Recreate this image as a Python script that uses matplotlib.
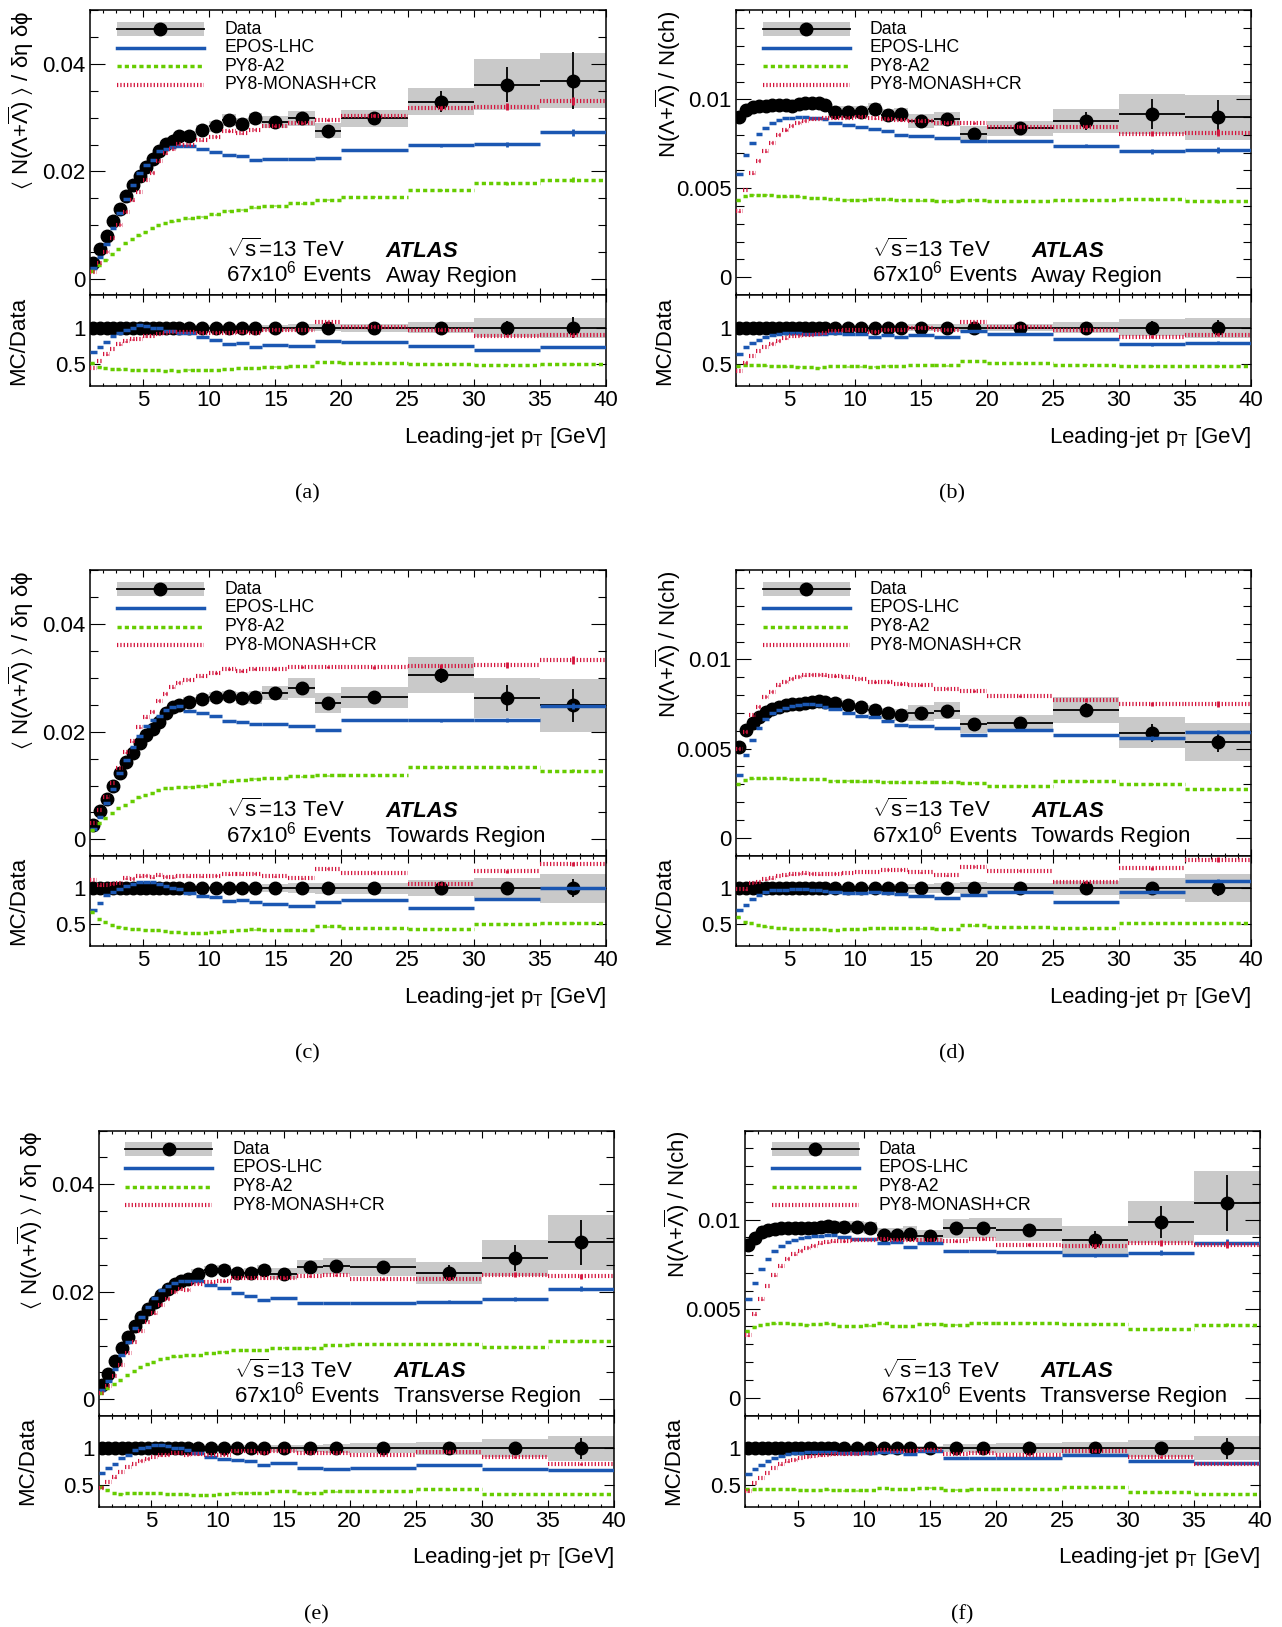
import numpy as np
import matplotlib
matplotlib.use("Agg")
import matplotlib.pyplot as plt
from matplotlib.ticker import MultipleLocator
from matplotlib.lines import Line2D
from matplotlib.patches import Rectangle

plt.rcParams['font.family'] = ['Liberation Sans', 'DejaVu Sans']
plt.rcParams.update({
    'mathtext.fontset': 'custom', 'mathtext.rm': 'Liberation Sans',
    'mathtext.it': 'Liberation Sans:italic', 'mathtext.bf': 'Liberation Sans:bold',
    'mathtext.sf': 'Liberation Sans', 'mathtext.default': 'regular',
})

# ---------------- data ----------------
bin_edges = [1.0, 1.5, 2.0, 2.5, 3.0, 3.5, 4.0, 4.5, 5.0, 5.5, 6.0, 6.5, 7.0, 7.5, 8.0,
             9.0, 10.0, 11.0, 12.0, 13.0, 14.0, 16.0, 18.0, 20.0, 25.0, 30.0, 35.0, 40.0]

series_names = ["Data", "EPOS-LHC", "PY8-A2", "PY8-MONASH+CR"]
regions = ["Away Region", "Away Region", "Towards Region", "Towards Region",
           "Transverse Region", "Transverse Region"]
captions = ["(a)", "(b)", "(c)", "(d)", "(e)", "(f)"]
x_ticks = [5, 10, 15, 20, 25, 30, 35, 40]
ratio_ticks = [0.5, 1.0]
ratio_ticklabels = ["0.5", "1"]
dens_ticks = [0.0, 0.02, 0.04]
dens_ticklabels = ["0", "0.02", "0.04"]
frac_ticks = [0.0, 0.005, 0.01]
frac_ticklabels = ["0", "0.005", "0.01"]

# (a) Away, density
data_a = [0.00294, 0.00556, 0.00806, 0.0107, 0.0131, 0.0154, 0.0174, 0.0191, 0.0209, 0.0223, 0.0239, 0.0252, 0.0256, 0.0267,
          0.0266, 0.0277, 0.0284, 0.0296, 0.0289, 0.0299, 0.0292, 0.0299, 0.0276, 0.0299, 0.0330, 0.0362, 0.0369]
epos_a = [0.00197, 0.00406, 0.00653, 0.00942, 0.0122, 0.0149, 0.0174, 0.0197, 0.0213, 0.0221, 0.0239, 0.0242, 0.0246, 0.0248,
          0.0247, 0.0241, 0.0236, 0.0231, 0.0228, 0.0222, 0.0223, 0.0224, 0.0226, 0.0240, 0.0249, 0.0251, 0.0273]
a2_a = [0.0015, 0.0026, 0.0036, 0.0046, 0.0056, 0.0066, 0.0074, 0.0081, 0.0088, 0.0094, 0.0100, 0.0104, 0.0107, 0.0109,
        0.0113, 0.0116, 0.0120, 0.0127, 0.0129, 0.0133, 0.0136, 0.0141, 0.0147, 0.0153, 0.0165, 0.0178, 0.0185]
mon_a = [0.0013, 0.0030, 0.0051, 0.0076, 0.0101, 0.0125, 0.0146, 0.0162, 0.0184, 0.0198, 0.0219, 0.0234, 0.0241, 0.0251,
         0.0250, 0.0258, 0.0265, 0.0275, 0.0271, 0.0278, 0.0284, 0.0290, 0.0296, 0.0304, 0.0319, 0.0321, 0.0332]
stat_a = [0.004, 0.004, 0.004, 0.004, 0.004, 0.004, 0.004, 0.004, 0.004, 0.004, 0.004, 0.004, 0.004, 0.004,
          0.006, 0.006, 0.007, 0.008, 0.009, 0.010, 0.010, 0.012, 0.014, 0.020, 0.060, 0.090, 0.145]
sys_a = [0.030, 0.030, 0.030, 0.030, 0.030, 0.030, 0.030, 0.030, 0.030, 0.030, 0.030, 0.030, 0.030, 0.030,
         0.035, 0.035, 0.035, 0.035, 0.035, 0.035, 0.040, 0.045, 0.050, 0.055, 0.075, 0.130, 0.140]

# (b) Away, fraction
data_b = [0.00903, 0.0094, 0.00955, 0.0096, 0.00963, 0.00966, 0.0097, 0.00968, 0.00963, 0.00974, 0.00978, 0.0098, 0.0098, 0.00968,
          0.0093, 0.0093, 0.0093, 0.00946, 0.00912, 0.00916, 0.0088, 0.00888, 0.00804, 0.00837, 0.0088, 0.00918, 0.00899]
epos_b = [0.0058, 0.00688, 0.00753, 0.00804, 0.00837, 0.00865, 0.00884, 0.00893, 0.00893, 0.00899, 0.00899, 0.00897, 0.00893, 0.00888,
          0.00869, 0.00854, 0.00847, 0.00832, 0.00822, 0.0080, 0.00794, 0.00781, 0.00763, 0.00768, 0.0074, 0.00707, 0.00716]
a2_b = [0.00432, 0.00454, 0.00464, 0.00464, 0.00464, 0.00464, 0.00454, 0.00454, 0.00454, 0.00454, 0.0045, 0.00448, 0.00445, 0.00444,
        0.00439, 0.00436, 0.00436, 0.00441, 0.00439, 0.00436, 0.00432, 0.0043, 0.00436, 0.00428, 0.00434, 0.00437, 0.00426]
mon_b = [0.0037, 0.0049, 0.00585, 0.00654, 0.00707, 0.00757, 0.0080, 0.00828, 0.00852, 0.00869, 0.0088, 0.00888, 0.00892, 0.00893,
         0.00893, 0.00897, 0.00903, 0.00893, 0.00888, 0.00884, 0.00879, 0.00865, 0.00865, 0.00847, 0.00847, 0.00806, 0.00813]
stat_b = [0.004, 0.004, 0.004, 0.004, 0.004, 0.004, 0.004, 0.004, 0.004, 0.004, 0.004, 0.004, 0.004, 0.004,
          0.006, 0.006, 0.007, 0.008, 0.009, 0.010, 0.010, 0.012, 0.014, 0.020, 0.057, 0.090, 0.110]
sys_b = [0.035, 0.035, 0.030, 0.030, 0.030, 0.030, 0.030, 0.030, 0.030, 0.030, 0.030, 0.030, 0.030, 0.030,
         0.035, 0.035, 0.035, 0.035, 0.040, 0.040, 0.045, 0.045, 0.056, 0.050, 0.076, 0.120, 0.140]

# (c) Towards, density
data_c = [0.0027, 0.0052, 0.0075, 0.0099, 0.0124, 0.0143, 0.0161, 0.0179, 0.0194, 0.0206, 0.0219, 0.0234, 0.0246, 0.0249,
          0.0256, 0.0261, 0.0264, 0.0266, 0.0263, 0.0264, 0.0272, 0.0281, 0.0253, 0.0264, 0.0306, 0.0263, 0.0249]
epos_c = [0.0019, 0.0041, 0.0068, 0.0094, 0.0123, 0.0147, 0.0171, 0.0193, 0.0211, 0.0222, 0.0230, 0.0241, 0.0246, 0.0247,
          0.0238, 0.0234, 0.0230, 0.0220, 0.0219, 0.0214, 0.0214, 0.0211, 0.0203, 0.0221, 0.0221, 0.0222, 0.0248]
a2_c = [0.0018, 0.0030, 0.0040, 0.0049, 0.0058, 0.0064, 0.0071, 0.0078, 0.0083, 0.0087, 0.0091, 0.0095, 0.0096, 0.0097,
        0.0098, 0.0100, 0.0103, 0.0108, 0.0110, 0.0113, 0.0114, 0.0117, 0.0119, 0.0119, 0.0134, 0.0134, 0.0128]
mon_c = [0.0030, 0.0054, 0.0078, 0.0105, 0.0133, 0.0162, 0.0182, 0.0208, 0.0227, 0.0237, 0.0258, 0.0271, 0.0283, 0.0291,
         0.0297, 0.0303, 0.0309, 0.0317, 0.0313, 0.0317, 0.0316, 0.0320, 0.0320, 0.0320, 0.0323, 0.0324, 0.0333]
stat_c = [0.004, 0.004, 0.004, 0.004, 0.004, 0.004, 0.004, 0.004, 0.004, 0.004, 0.004, 0.004, 0.004, 0.004,
          0.006, 0.006, 0.007, 0.008, 0.009, 0.010, 0.010, 0.012, 0.014, 0.020, 0.052, 0.090, 0.125]
sys_c = [0.030, 0.030, 0.030, 0.030, 0.030, 0.030, 0.030, 0.030, 0.030, 0.030, 0.030, 0.030, 0.030, 0.030,
         0.035, 0.035, 0.035, 0.035, 0.040, 0.045, 0.050, 0.068, 0.075, 0.076, 0.108, 0.140, 0.200]

# (d) Towards, fraction
data_d = [0.00507, 0.00604, 0.00641, 0.00679, 0.00707, 0.00721, 0.00735, 0.00744, 0.0075, 0.00753, 0.00757, 0.00763, 0.00768, 0.00763,
          0.00757, 0.00744, 0.00731, 0.00716, 0.00697, 0.00688, 0.00701, 0.00712, 0.00637, 0.00641, 0.00716, 0.00589, 0.00538]
epos_d = [0.0035, 0.00464, 0.00548, 0.00613, 0.00665, 0.00697, 0.00716, 0.00729, 0.00738, 0.00744, 0.00748, 0.00748, 0.00744, 0.00735,
          0.00721, 0.00697, 0.00684, 0.00679, 0.00654, 0.00632, 0.00628, 0.00613, 0.00576, 0.00604, 0.00576, 0.00561, 0.00594]
a2_d = [0.00301, 0.00323, 0.00333, 0.00333, 0.00333, 0.00333, 0.00333, 0.00333, 0.00329, 0.00329, 0.00329, 0.00329, 0.00329, 0.00329,
        0.0032, 0.0032, 0.00316, 0.0032, 0.00314, 0.0031, 0.0031, 0.0031, 0.00308, 0.00292, 0.00318, 0.00301, 0.00275]
mon_d = [0.0050, 0.00594, 0.00688, 0.00735, 0.00791, 0.00819, 0.00856, 0.00875, 0.00893, 0.00903, 0.00912, 0.00914, 0.00914, 0.00912,
         0.00907, 0.00899, 0.00893, 0.00875, 0.00875, 0.00862, 0.00856, 0.00837, 0.00824, 0.00796, 0.00772, 0.0075, 0.0075]
stat_d = [0.004, 0.004, 0.004, 0.004, 0.004, 0.004, 0.004, 0.004, 0.004, 0.004, 0.004, 0.004, 0.004, 0.004,
          0.006, 0.006, 0.007, 0.008, 0.009, 0.010, 0.010, 0.012, 0.014, 0.020, 0.056, 0.085, 0.110]
sys_d = [0.030, 0.030, 0.030, 0.030, 0.030, 0.030, 0.030, 0.030, 0.030, 0.030, 0.030, 0.030, 0.030, 0.030,
         0.035, 0.035, 0.035, 0.040, 0.045, 0.050, 0.063, 0.066, 0.078, 0.070, 0.100, 0.146, 0.195]

# (e) Transverse, density
data_e = [0.00267, 0.00473, 0.00722, 0.00952, 0.0116, 0.0136, 0.0153, 0.0168, 0.0182, 0.0195, 0.0205, 0.0215, 0.0220, 0.0224,
          0.0234, 0.0240, 0.0241, 0.0235, 0.0235, 0.0240, 0.0234, 0.0246, 0.0248, 0.0246, 0.0235, 0.0263, 0.0292]
epos_e = [0.00176, 0.00345, 0.00563, 0.0082, 0.0106, 0.0132, 0.0153, 0.0171, 0.0189, 0.0203, 0.0211, 0.0217, 0.0220, 0.0220,
          0.0220, 0.0212, 0.0207, 0.0197, 0.0193, 0.0185, 0.0188, 0.0179, 0.0179, 0.0180, 0.0182, 0.0187, 0.0206]
a2_e = [0.00124, 0.00205, 0.0028, 0.0036, 0.0045, 0.0053, 0.0060, 0.0065, 0.0070, 0.0075, 0.0077, 0.0080, 0.0081, 0.0082,
        0.0083, 0.0086, 0.0089, 0.0092, 0.0092, 0.0092, 0.0096, 0.0096, 0.0101, 0.0103, 0.0103, 0.0098, 0.0109]
mon_e = [0.00123, 0.00255, 0.00433, 0.0064, 0.0086, 0.0107, 0.0127, 0.0144, 0.0160, 0.0176, 0.0187, 0.0200, 0.0205, 0.0204,
         0.0215, 0.0218, 0.0220, 0.0225, 0.0225, 0.0225, 0.0226, 0.0229, 0.0231, 0.0223, 0.0224, 0.0232, 0.0229]
stat_e = [0.004, 0.004, 0.004, 0.004, 0.004, 0.004, 0.004, 0.004, 0.004, 0.004, 0.004, 0.004, 0.004, 0.004,
          0.006, 0.006, 0.007, 0.008, 0.009, 0.010, 0.010, 0.012, 0.014, 0.020, 0.060, 0.090, 0.145]
sys_e = [0.030, 0.030, 0.030, 0.030, 0.030, 0.030, 0.030, 0.030, 0.030, 0.030, 0.030, 0.030, 0.030, 0.030,
         0.035, 0.035, 0.035, 0.035, 0.040, 0.040, 0.045, 0.050, 0.060, 0.070, 0.090, 0.125, 0.175]

# (f) Transverse, fraction
data_f = [0.0086, 0.00897, 0.00929, 0.00944, 0.00948, 0.0095, 0.00953, 0.00953, 0.00955, 0.00951, 0.00953, 0.00959, 0.00963, 0.00959,
          0.00959, 0.00957, 0.00951, 0.00916, 0.00914, 0.0092, 0.00907, 0.0095, 0.00953, 0.00944, 0.00884, 0.00987, 0.01093]
epos_f = [0.00552, 0.00646, 0.0072, 0.0078, 0.00823, 0.0085, 0.00873, 0.00888, 0.00897, 0.00903, 0.00907, 0.0091, 0.00912, 0.00912,
          0.00903, 0.00892, 0.00892, 0.00869, 0.00873, 0.00847, 0.00869, 0.00826, 0.00826, 0.00819, 0.00799, 0.00813, 0.00869]
a2_f = [0.00373, 0.00399, 0.00409, 0.00414, 0.00418, 0.00418, 0.00418, 0.00414, 0.00412, 0.0041, 0.00411, 0.00414, 0.00418, 0.00412,
        0.00403, 0.00403, 0.00406, 0.00418, 0.00403, 0.00403, 0.00416, 0.0041, 0.00422, 0.00422, 0.00412, 0.00388, 0.00409]
mon_f = [0.0035, 0.00468, 0.00552, 0.00627, 0.00688, 0.00739, 0.0078, 0.00804, 0.00826, 0.00841, 0.00854, 0.00866, 0.00873, 0.00877,
         0.00879, 0.00888, 0.00888, 0.00892, 0.00884, 0.00888, 0.00888, 0.00879, 0.00892, 0.0086, 0.00851, 0.00869, 0.0086]
stat_f = [0.004, 0.004, 0.004, 0.004, 0.004, 0.004, 0.004, 0.004, 0.004, 0.004, 0.004, 0.004, 0.004, 0.004,
          0.006, 0.006, 0.007, 0.008, 0.009, 0.010, 0.010, 0.012, 0.014, 0.020, 0.057, 0.090, 0.143]
sys_f = [0.045, 0.040, 0.035, 0.035, 0.035, 0.035, 0.035, 0.035, 0.035, 0.035, 0.035, 0.035, 0.035, 0.035,
         0.035, 0.035, 0.035, 0.040, 0.045, 0.045, 0.035, 0.057, 0.059, 0.067, 0.090, 0.120, 0.165]

mc_relerr = [0.004, 0.004, 0.004, 0.004, 0.004, 0.004, 0.004, 0.004, 0.004, 0.004, 0.004, 0.004, 0.004, 0.004,
             0.005, 0.005, 0.005, 0.005, 0.005, 0.005, 0.006, 0.006, 0.006, 0.008, 0.012, 0.018, 0.022]

# ---------------- styling ----------------
W, H, DPI = 1282, 1627, 100
GRAY = '#c9c9c9'
MC_STYLE = {
    "EPOS-LHC": dict(color='#1b57b2', ls='-', lw=2.5),
    "PY8-A2": dict(color='#66cc00', ls=(0, (1.2, 0.9)), lw=2.5),
    "PY8-MONASH+CR": dict(color='#d4143c', ls=(0, (0.3, 0.5)), lw=3.0),
}
FS = 16
MS = 9

edges = np.array(bin_edges)
lo, hi = edges[:-1], edges[1:]
ctr = 0.5 * (lo + hi)
hw = 0.5 * (hi - lo)
mcerr = np.array(mc_relerr)

fig = plt.figure(figsize=(W / DPI, H / DPI), dpi=DPI)

cols = [(90, 606), (736, 1251), (90, 606), (736, 1251), (98.5, 614), (745, 1260)]
rows_y = [(10.4, 295.0, 386.0), (570.4, 855.5, 946.0), (1130.5, 1415.5, 1506.5)]
ylab_x = [21, 668, 21, 668, 30, 677]
rlab_x = [18.5, 664.5, 18.5, 664.5, 27.5, 674]
cap_x = [307, 952, 307, 952, 316, 962.5]

dens_label = r'$\langle$ N($\Lambda$+$\overline{\Lambda}$) $\rangle$ / $\delta\eta$ $\delta\phi$'
frac_label = r'N($\Lambda$+$\overline{\Lambda}$) / N(ch)'

panels = [
    (data_a, epos_a, a2_a, mon_a, stat_a, sys_a),
    (data_b, epos_b, a2_b, mon_b, stat_b, sys_b),
    (data_c, epos_c, a2_c, mon_c, stat_c, sys_c),
    (data_d, epos_d, a2_d, mon_d, stat_d, sys_d),
    (data_e, epos_e, a2_e, mon_e, stat_e, sys_e),
    (data_f, epos_f, a2_f, mon_f, stat_f, sys_f),
]


def style_axis(ax, ymaj_len, ymin_len):
    ax.set_xlim(1, 40)
    ax.xaxis.set_major_locator(MultipleLocator(5))
    ax.xaxis.set_minor_locator(MultipleLocator(1))
    ax.tick_params(which='both', direction='in', top=True, right=True, width=0.8,
                   labelsize=FS, pad=3)
    ax.tick_params(axis='x', which='major', length=5)
    ax.tick_params(axis='x', which='minor', length=2.5)
    ax.tick_params(axis='y', which='major', length=ymaj_len)
    ax.tick_params(axis='y', which='minor', length=ymin_len)
    for s in ax.spines.values():
        s.set_linewidth(1.1)


for i, (dat, epos, a2, mon, stat, sysr) in enumerate(panels):
    l, r = cols[i]
    top, mid, bot = rows_y[i // 2]
    is_frac = (i % 2 == 1)
    axm = fig.add_axes([l / W, 1 - mid / H, (r - l) / W, (mid - top) / H])
    axr = fig.add_axes([l / W, 1 - bot / H, (r - l) / W, (bot - mid) / H])

    d = np.array(dat)
    st = np.array(stat) * d
    sy = np.array(sysr) * d
    models = [("EPOS-LHC", np.array(epos)), ("PY8-A2", np.array(a2)), ("PY8-MONASH+CR", np.array(mon))]

    # main panel
    axm.bar(ctr, 2 * sy, bottom=d - sy, width=hi - lo, color=GRAY, lw=0, zorder=1)
    axm.errorbar(ctr, d, xerr=hw, yerr=st, fmt='o', color='k', ms=MS,
                 elinewidth=1.3, capsize=0, zorder=3)
    for name, v in models:
        stl = MC_STYLE[name]
        axm.hlines(v, lo, hi, colors=stl['color'], linestyles=[stl['ls']], linewidth=stl['lw'], zorder=4)
        axm.errorbar(ctr, v, yerr=v * mcerr, fmt='none', ecolor=stl['color'], elinewidth=2, capsize=0, zorder=4)

    # ratio panel
    axr.bar(ctr, 2 * sy / d, bottom=1 - sy / d, width=hi - lo, color=GRAY, lw=0, zorder=1)
    axr.errorbar(ctr, d / d, xerr=hw, yerr=st / d, fmt='o', color='k', ms=MS,
                 elinewidth=1.3, capsize=0, zorder=3)
    for name, v in models:
        stl = MC_STYLE[name]
        axr.hlines(v / d, lo, hi, colors=stl['color'], linestyles=[stl['ls']], linewidth=stl['lw'], zorder=4)
        axr.errorbar(ctr, v / d, yerr=v * mcerr / d, fmt='none', ecolor=stl['color'], elinewidth=2, capsize=0, zorder=4)

    if is_frac:
        axm.set_ylim(-0.001, 0.015)
        axm.set_yticks(frac_ticks, frac_ticklabels)
        axm.yaxis.set_minor_locator(MultipleLocator(0.001))
        ylab = frac_label
    else:
        axm.set_ylim(-0.003, 0.05)
        axm.set_yticks(dens_ticks, dens_ticklabels)
        axm.yaxis.set_minor_locator(MultipleLocator(0.005))
        ylab = dens_label
    style_axis(axm, 11, 6)
    axm.tick_params(labelbottom=False)

    axr.set_ylim(0.2, 1.45)
    axr.set_yticks(ratio_ticks, ratio_ticklabels)
    style_axis(axr, 7, 3.5)
    axr.set_xticks(x_ticks, [str(t) for t in x_ticks])

    # legend (manual, ROOT style)
    yrows = [0.9346, 0.869, 0.803, 0.738]
    x0, x1, xt = 0.052, 0.221, 0.26
    hbox = 0.049
    axm.add_patch(Rectangle((x0, yrows[0] - hbox / 2), x1 - x0, hbox, transform=axm.transAxes,
                            color=GRAY, lw=0, zorder=5))
    axm.add_line(Line2D([x0, x1], [yrows[0], yrows[0]], transform=axm.transAxes, color='k', lw=1.3, zorder=6))
    axm.add_line(Line2D([0.5 * (x0 + x1)], [yrows[0]], transform=axm.transAxes, color='k', marker='o',
                        ms=MS, lw=0, zorder=6))
    for k, name in enumerate(series_names[1:], start=1):
        stl = MC_STYLE[name]
        axm.add_line(Line2D([x0, x1], [yrows[k], yrows[k]], transform=axm.transAxes, color=stl['color'],
                            ls=stl['ls'], lw=stl['lw'], zorder=6))
    for k, name in enumerate(series_names):
        axm.text(xt, yrows[k], name, transform=axm.transAxes, fontsize=12.7, va='center', ha='left', zorder=7)

    # ATLAS label
    axm.text(0.2636, 0.1335, r'$\sqrt{s}$=13 TeV', transform=axm.transAxes, fontsize=FS, va='baseline')
    axm.text(0.2636, 0.0457, r'67x10$^{6}$ Events', transform=axm.transAxes, fontsize=FS, va='baseline')
    axm.text(0.573, 0.1335, 'ATLAS', transform=axm.transAxes, fontsize=FS, va='baseline',
             fontweight='bold', fontstyle='italic')
    axm.text(0.573, 0.0457, regions[i], transform=axm.transAxes, fontsize=FS, va='baseline')

    # axis titles
    fig.text(ylab_x[i] / W, 1 - top / H, ylab, rotation=90, ha='center', va='top', fontsize=FS)
    fig.text(rlab_x[i] / W, 1 - 0.5 * (mid + bot) / H, 'MC/Data', rotation=90, ha='center', va='center', fontsize=FS)
    fig.text(r / W, 1 - (bot + 57) / H, r'Leading-jet p$_{\mathsf{\ T}}$ [GeV]'.replace(r'\mathsf{\ T}', 'T'),
             ha='right', va='baseline', fontsize=FS)
    fig.text(cap_x[i] / W, 1 - (bot + 108) / H, captions[i], ha='center', va='center', fontsize=16,
             family=['Liberation Serif', 'DejaVu Serif'])

fig.savefig('out.png', dpi=DPI)
